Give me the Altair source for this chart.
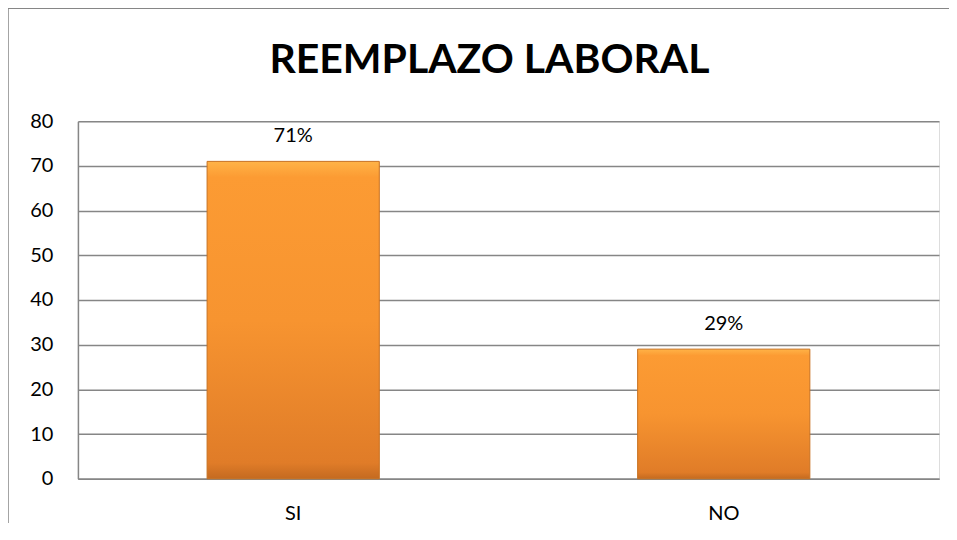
import altair as alt
import pandas as pd

categories = ["SI", "NO"]
values = [71, 29]
labels = ["71%", "29%"]
y_ticks = [0, 10, 20, 30, 40, 50, 60, 70, 80]
title_text = "REEMPLAZO LABORAL"

df = pd.DataFrame({"cat": categories, "val": values, "lab": labels})

FONT = "Lato"

x_enc = alt.X("cat:N", sort=categories, title=None,
              scale=alt.Scale(paddingInner=0.6, paddingOuter=0.3),
              axis=alt.Axis(labelAngle=0, labelFontSize=20, labelFont=FONT, labelColor="#000000",
                            labelPadding=25, ticks=False, domainColor="#868686", domainWidth=1.5,
                            grid=False))
y_enc = alt.Y("val:Q", title=None,
              scale=alt.Scale(domain=[0, 80], nice=False),
              axis=alt.Axis(values=y_ticks, labelFontSize=20, labelFont=FONT, labelColor="#000000",
                            labelPadding=25, ticks=False, domainColor="#868686", domainWidth=1.5,
                            gridColor="#868686", gridWidth=1.5))

grad = alt.Gradient(
    gradient="linear",
    stops=[alt.GradientStop(color="#FFB347", offset=0),
           alt.GradientStop(color="#FC9B33", offset=0.05),
           alt.GradientStop(color="#F79430", offset=0.5),
           alt.GradientStop(color="#E07C28", offset=0.95),
           alt.GradientStop(color="#C46A20", offset=1)],
    x1=0, x2=0, y1=0, y2=1,
)

bars = alt.Chart(df).mark_bar(color=grad, stroke="#C8701F", strokeWidth=1).encode(x=x_enc, y=y_enc)

text = alt.Chart(df).mark_text(fontSize=20, font=FONT, color="#000000", baseline="alphabetic", dy=-19).encode(
    x=alt.X("cat:N", sort=categories), y="val:Q", text="lab:N")

title_df = pd.DataFrame({"t": [title_text]})
title = alt.Chart(title_df).mark_text(fontSize=41, font=FONT, fontWeight="bold", color="#000000",
                                      baseline="alphabetic", align="center").encode(
    x=alt.value(412), y=alt.value(-48), text="t:N")

top_border = alt.Chart(pd.DataFrame({"a": [0]})).mark_rule(color="#868686", strokeWidth=1.5).encode(
    x=alt.value(-70), x2=alt.value(900), y=alt.value(-113))
left_border = alt.Chart(pd.DataFrame({"a": [0]})).mark_rule(color="#868686", strokeWidth=1.5).encode(
    x=alt.value(-70), y=alt.value(-113), y2=alt.value(420))

chart = alt.layer(top_border, left_border, bars, text, title).properties(
    width=862, height=358,
    autosize=alt.AutoSizeParams(type="none"),
    padding={"left": 70, "top": 113, "right": 10, "bottom": 44},
).configure_view(stroke=None).configure(background="#ffffff")

chart.save("out.html", embed_options={"renderer": "svg", "actions": False})
